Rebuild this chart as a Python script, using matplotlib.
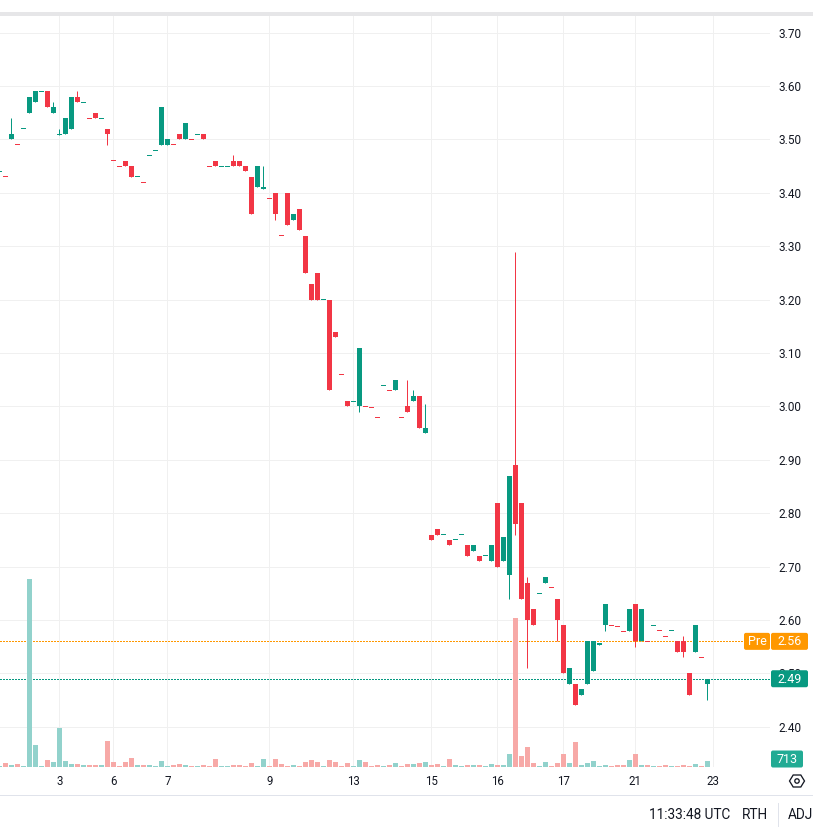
import matplotlib
matplotlib.use("Agg")
import matplotlib.pyplot as plt
from matplotlib.patches import FancyBboxPatch, Polygon, Circle, Rectangle
from matplotlib.lines import Line2D

# ---------------- data ----------------
opens = [3.44,3.43,3.50,3.49,3.52,3.55,3.57,3.59,3.59,3.55,
         3.508,3.51,3.52,3.58,3.57,3.54,3.55,3.54,3.52,3.46,
         3.45,3.46,3.45,3.43,3.42,3.47,3.48,3.49,3.49,3.49,
         3.51,3.50,3.50,3.51,3.51,3.45,3.46,3.45,3.45,3.46,
         3.46,3.45,3.43,3.41,3.408,3.39,3.40,3.32,3.40,3.35,
         3.37,3.32,3.23,3.25,3.20,3.20,3.14,3.06,3.01,3.01,
         3.00,3.00,2.998,2.98,3.04,3.03,3.03,2.98,3.00,3.01,
         3.02,2.95,2.76,2.77,2.76,2.75,2.75,2.76,2.74,2.73,
         2.72,2.72,2.71,2.82,2.71,2.685,2.89,2.82,2.67,2.62,
         2.65,2.67,2.66,2.64,2.59,2.48,2.48,2.46,2.48,2.505,
         2.553,2.59,2.59,2.588,2.578,2.58,2.63,2.56,2.56,2.59,
         2.58,2.57,2.58,2.56,2.56,2.50,2.54,2.53,2.48]
highs = [3.44,3.43,3.54,3.49,3.52,3.58,3.59,3.59,3.59,3.57,
         3.52,3.54,3.58,3.59,3.57,3.54,3.55,3.54,3.52,3.46,
         3.45,3.46,3.45,3.43,3.42,3.47,3.48,3.56,3.50,3.49,
         3.51,3.53,3.50,3.51,3.51,3.45,3.46,3.45,3.45,3.47,
         3.46,3.45,3.43,3.45,3.45,3.39,3.40,3.32,3.40,3.36,
         3.37,3.32,3.23,3.25,3.20,3.20,3.14,3.06,3.01,3.01,
         3.11,3.00,2.998,2.98,3.04,3.03,3.05,2.98,3.05,3.03,
         3.02,3.005,2.76,2.77,2.76,2.75,2.75,2.76,2.74,2.74,
         2.72,2.72,2.74,2.82,2.755,2.87,3.29,2.82,2.68,2.62,
         2.65,2.68,2.66,2.64,2.59,2.51,2.48,2.47,2.56,2.56,
         2.557,2.63,2.59,2.588,2.578,2.62,2.63,2.62,2.56,2.59,
         2.58,2.57,2.58,2.56,2.57,2.50,2.59,2.53,2.49]
lows = [3.44,3.43,3.50,3.49,3.52,3.55,3.57,3.59,3.56,3.55,
        3.508,3.51,3.52,3.57,3.57,3.54,3.54,3.54,3.49,3.46,
        3.45,3.45,3.43,3.43,3.42,3.47,3.48,3.49,3.49,3.49,
        3.50,3.50,3.50,3.51,3.50,3.45,3.45,3.45,3.45,3.45,
        3.45,3.44,3.36,3.41,3.408,3.39,3.35,3.32,3.34,3.35,
        3.33,3.25,3.20,3.20,3.20,3.03,3.13,3.06,3.00,3.01,
        2.99,3.00,2.998,2.98,3.04,3.03,3.03,2.98,2.99,3.01,
        2.96,2.95,2.75,2.76,2.76,2.74,2.75,2.76,2.72,2.73,
        2.71,2.72,2.71,2.70,2.71,2.64,2.76,2.64,2.51,2.59,
        2.65,2.67,2.66,2.56,2.50,2.48,2.44,2.46,2.48,2.505,
        2.553,2.58,2.59,2.588,2.578,2.58,2.55,2.56,2.56,2.59,
        2.58,2.57,2.58,2.54,2.53,2.46,2.54,2.53,2.45]
closes = [3.44,3.43,3.51,3.49,3.52,3.58,3.59,3.59,3.56,3.56,
          3.51,3.54,3.58,3.57,3.57,3.54,3.54,3.54,3.51,3.46,
          3.45,3.45,3.43,3.43,3.42,3.47,3.48,3.56,3.50,3.49,
          3.50,3.53,3.50,3.51,3.50,3.45,3.45,3.45,3.45,3.45,
          3.45,3.44,3.36,3.45,3.41,3.39,3.36,3.32,3.34,3.36,
          3.33,3.25,3.20,3.20,3.20,3.03,3.13,3.06,3.00,3.01,
          3.11,3.00,2.998,2.98,3.04,3.03,3.05,2.98,2.99,3.02,
          2.96,2.96,2.75,2.76,2.76,2.74,2.75,2.76,2.72,2.74,
          2.71,2.72,2.74,2.70,2.755,2.87,2.78,2.64,2.60,2.59,
          2.65,2.68,2.66,2.60,2.50,2.51,2.44,2.47,2.56,2.56,
          2.557,2.63,2.59,2.588,2.578,2.62,2.56,2.62,2.56,2.59,
          2.58,2.57,2.58,2.54,2.54,2.46,2.59,2.53,2.49]
volumes = [120,480,240,360,120,22370,2620,120,830,590,
           4640,713,360,360,240,240,240,240,3090,590,
           120,590,1070,240,240,240,120,713,120,240,
           360,240,120,120,240,120,950,120,120,240,
           240,120,480,120,950,120,950,360,120,240,
           120,590,830,590,120,830,590,120,480,120,
           830,590,120,240,120,240,480,120,360,360,
           480,590,240,360,120,950,240,120,240,240,
           240,120,360,240,240,1550,17730,1310,2380,480,
           120,590,120,480,1550,480,2980,240,480,713,
           120,240,120,240,240,830,1550,240,240,120,
           120,240,120,120,240,120,360,120,713]

day_tick_index = [10, 19, 28, 45, 59, 72, 83, 94, 106, 119]
day_tick_labels = ['3', '6', '7', '9', '13', '15', '16', '17', '21', '23']
price_ticks = [2.40, 2.50, 2.60, 2.70, 2.80, 2.90, 3.00, 3.10, 3.20, 3.30,
               3.40, 3.50, 3.60, 3.70]
pre_price = 2.56
last_price = closes[-1]
last_volume = volumes[-1]
status_text = ['11:33:48 UTC', 'RTH', 'ADJ']

# ---------------- style ----------------
W, H, DPI = 813, 830, 100
PX = 72.0 / DPI
UP, DOWN = '#089981', '#F23645'
VUP, VDOWN = '#92D2CC', '#F7A9A7'
TXT = '#131722'
GRID = '#F0F0F0'
plt.rcParams['font.family'] = ['Roboto', 'DejaVu Sans']
plt.rcParams['lines.scale_dashes'] = False

fig = plt.figure(figsize=(W / DPI, H / DPI), dpi=DPI)
fig.patch.set_facecolor('white')


def rect_px(l, t, r, b):
    return [l / W, 1 - b / H, (r - l) / W, (b - t) / H]


R = rect_px(0, 16, 770, 767)
ax = fig.add_axes(R)
axv = fig.add_axes(R, sharex=ax)
axv.patch.set_alpha(0)

n = len(closes)
xs = list(range(n))
ax.set_xlim(0.7 / 6, 770.7 / 6)
ax.set_ylim(3.60 - 681 / 534, 3.60 + 70 / 534)
axv.set_ylim(0, max(volumes) * 751 / 188)

for a in (ax, axv):
    for s in a.spines.values():
        s.set_visible(False)

# grid & ticks
ax.set_yticks(price_ticks)
ax.set_yticklabels([f"{p:.2f}" for p in price_ticks])
ax.yaxis.tick_right()
ax.set_xticks(day_tick_index)
ax.set_xticklabels(day_tick_labels)
ax.tick_params(axis='y', length=0, pad=6.3, labelsize=8.5, labelcolor=TXT)
ax.tick_params(axis='x', length=0, pad=5.5, labelsize=8.3, labelcolor=TXT)
ax.grid(True, color=GRID, linewidth=1 * PX)
ax.set_axisbelow(True)
axv.tick_params(left=False, right=False, bottom=False, labelleft=False,
                labelbottom=False)

# candle direction
up = []
for i in range(n):
    prev = closes[i - 1] if i > 0 else opens[i]
    if closes[i] > opens[i]:
        up.append(True)
    elif closes[i] < opens[i]:
        up.append(False)
    else:
        up.append(closes[i] >= prev)
ccol = [UP if u else DOWN for u in up]
vcol = [VUP if u else VDOWN for u in up]

# price per pixel
y0, y1 = ax.get_ylim()
ppp = (y1 - y0) / 751.0

# wicks
ax.vlines(xs, lows, highs, colors=ccol, linewidth=1 * PX, zorder=3)
# bodies
bottoms, heights = [], []
for o, c in zip(opens, closes):
    h = abs(c - o)
    if h < ppp:
        bottoms.append(min(o, c) - (ppp - h) / 2)
        heights.append(ppp)
    else:
        bottoms.append(min(o, c))
        heights.append(h)
bw = 5 / 6
ax.bar(xs, heights, bottom=bottoms, width=bw, color=ccol, linewidth=0,
       zorder=4)

# price lines (dotted, crisp)
l1 = ax.axhline(pre_price, xmin=0, xmax=744 / 770, color='#FF9800',
                linewidth=1.2 * PX, linestyle=(0, (2 * PX, 2 * PX)), zorder=2)
l2 = ax.axhline(last_price, color=UP, linewidth=1.2 * PX,
                linestyle=(0, (2 * PX, 2 * PX)), zorder=2)
for ln in (l1, l2):
    ln.set_antialiased(False)

# volume
axv.bar(xs, volumes, width=bw, color=vcol, linewidth=0, zorder=2)

# ---------------- overlay ----------------
ov = fig.add_axes([0, 0, 1, 1])
ov.set_xlim(0, W)
ov.set_ylim(H, 0)
ov.axis('off')
ov.patch.set_alpha(0)


def ypix(axis, v):
    return H - axis.transData.transform((0, v))[1]


ov.add_patch(Rectangle((0, 12), W, 4, color='#E6E6E8', linewidth=0))
ov.add_line(Line2D([0, W], [794.5, 794.5], color='#E0E3EB', linewidth=1 * PX))
ov.add_line(Line2D([777.5, 777.5], [803, 826], color='#E0E3EB', linewidth=1 * PX))


def tag(x0, x1, yc, h, color, text):
    ov.add_patch(FancyBboxPatch((x0, yc - h / 2), x1 - x0, h,
                                boxstyle='round,pad=0,rounding_size=2',
                                facecolor=color, edgecolor='none', zorder=10))
    ov.text((x0 + x1) / 2, yc + 0.5, text, color='white', fontsize=9,
            ha='center', va='center', zorder=11)


yp = ypix(ax, pre_price)
tag(744, 770, yp, 17, '#FF9800', 'Pre')
tag(771, 808, yp, 17, '#FF9800', f"{pre_price:.2f}")
tag(771, 808, ypix(ax, last_price), 17, UP, f"{last_price:.2f}")
tag(771, 803, ypix(axv, last_volume) - 2, 17, '#22AB94', f"{last_volume}")

# settings hexagon icon
cx, cy = 797, 781
hexpts = [(cx - 7.5, cy), (cx - 3.8, cy - 6), (cx + 3.8, cy - 6),
          (cx + 7.5, cy), (cx + 3.8, cy + 6), (cx - 3.8, cy + 6)]
ov.add_patch(Polygon(hexpts, closed=True, fill=False, edgecolor=TXT,
                     linewidth=1.3 * PX))
ov.add_patch(Circle((cx, cy), 2.2, fill=False, edgecolor=TXT,
                    linewidth=1.3 * PX))

# status bar
ov.text(730, 815, status_text[0], ha='right', va='center', fontsize=9.8,
        color=TXT)
ov.text(755, 815, status_text[1], ha='center', va='center', fontsize=9.8,
        color=TXT)
ov.text(800, 815, status_text[2], ha='center', va='center', fontsize=9.8,
        color=TXT)

fig.savefig('out.png', dpi=DPI, facecolor='white')
